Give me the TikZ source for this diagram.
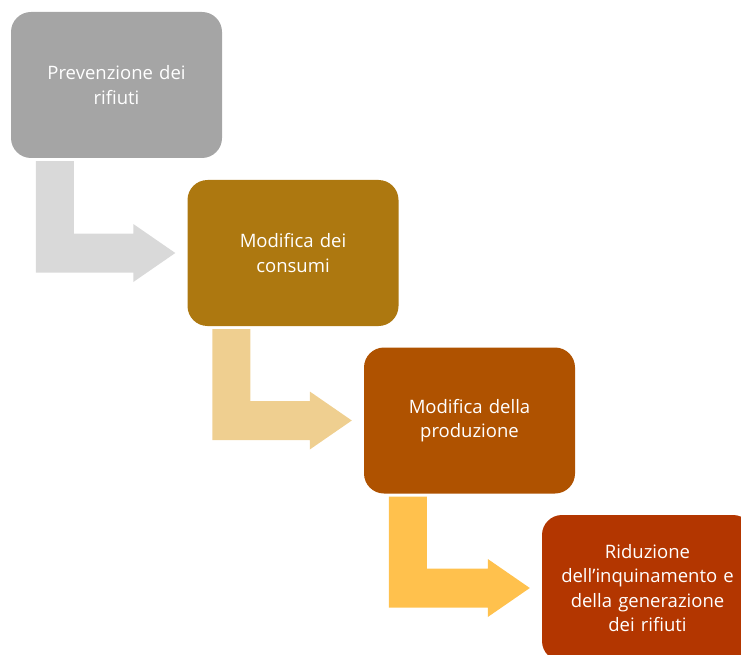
\documentclass[tikz,border=0pt]{standalone}
\usepackage{fontspec}
\setmainfont{Open Sans}
\usetikzlibrary{calc}
\usepackage{xcolor}

\definecolor{stepgray}{HTML}{A5A5A5}
\definecolor{stepgold}{HTML}{AD7810}
\definecolor{steprust}{HTML}{AF5200}
\definecolor{stepred}{HTML}{B33600}
\definecolor{arrowgray}{HTML}{D9D9D9}
\definecolor{arrowsand}{HTML}{EFCF90}
\definecolor{arrowamber}{HTML}{FFC14D}

\tikzset{
  stepbox/.style={rectangle, rounded corners=20pt, minimum width=211pt, minimum height=146pt,
    text width=195pt, align=center, text=white, inner sep=0pt,
    font=\fontsize{18.5}{24.5}\selectfont}
}

% bent block arrow from the bottom of one box to the left of the next
\newcommand{\bentarrow}[3]{%
  \fill[#3] let \p1=(#1.south west), \p2=(#2.west) in
    (\x1+25pt,\y1-3pt) -- (\x1+63pt,\y1-3pt) -- (\x1+63pt,\y2+19.5pt)
    -- (\x2-54pt,\y2+19.5pt) -- (\x2-54pt,\y2+29pt) -- (\x2-12pt,\y2)
    -- (\x2-54pt,\y2-29pt) -- (\x2-54pt,\y2-19.5pt) -- (\x1+25pt,\y2-19.5pt) -- cycle;}

\begin{document}
\begin{tikzpicture}[x=1pt, y=-1pt]
    \useasboundingbox (0,0) rectangle (741,655);
    \node[stepbox, fill=stepgray] (prev) at (116.5,85) {Prevenzione dei\\rifiuti};
    \node[stepbox, fill=stepgold] (cons) at (293,253) {Modifica dei\\consumi};
    \node[stepbox, fill=steprust] (prod) at (469.5,420.5) {Modifica della\\produzione};
    \node[stepbox, fill=stepred] (rid) at (647.5,588) {Riduzione\\dell’inquinamento e\\della generazione\\dei rifiuti};
    \bentarrow{prev}{cons}{arrowgray}
    \bentarrow{cons}{prod}{arrowsand}
    \bentarrow{prod}{rid}{arrowamber}
\end{tikzpicture}
\end{document}
